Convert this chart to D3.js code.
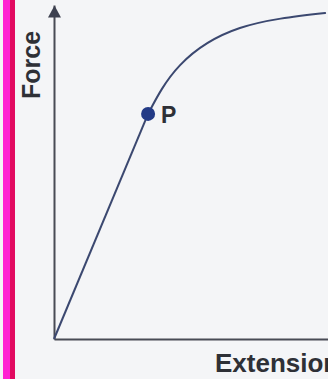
<!DOCTYPE html>
<html>
<head>
<meta charset="utf-8">
<script src="https://cdn.jsdelivr.net/npm/d3@7/dist/d3.min.js"></script>
<style>
  html, body { margin: 0; padding: 0; background: #f4f5f7; }
  svg { display: block; }
  .lbl { font-family: "Liberation Sans", Arial, sans-serif; font-weight: bold; fill: #2e3036; }
</style>
</head>
<body>
<div id="chart"></div>
<script>
// force-extension curve (arbitrary units 0..10)
const extension = [0, 3.29, 4.41, 6.50, 9.48];
const force     = [0, 6.74, 8.20, 9.31, 9.76];
const limitIndex = 1;          // point P, end of the straight part
const pointLabel = "P";
const xLabel = "Extension";
const yLabel = "Force";

const W = 328, H = 379;
const svg = d3.select("#chart").append("svg")
  .attr("width", W)
  .attr("height", H);

// page edge strip
svg.append("rect").attr("x", 3).attr("y", 0).attr("width", 7).attr("height", H).attr("fill", "#ff22d2");
svg.append("rect").attr("x", 10).attr("y", 0).attr("width", 5).attr("height", H).attr("fill", "#e20a60");

const x = d3.scaleLinear().domain([0, 10]).range([54, 340]);
const y = d3.scaleLinear().domain([0, 10]).range([339, 5]);

svg.append("defs").append("marker")
  .attr("id", "arrow")
  .attr("markerUnits", "userSpaceOnUse")
  .attr("viewBox", "0 0 12 13")
  .attr("refX", 12).attr("refY", 6.5)
  .attr("markerWidth", 12).attr("markerHeight", 13)
  .attr("orient", "auto")
  .append("path")
  .attr("d", "M0,0L12,6.5L0,13Z")
  .attr("fill", "#3d4150");

const axisColor = "#484b55";

svg.append("g")
  .attr("transform", `translate(0,${y(0)})`)
  .call(d3.axisBottom(x).ticks(0).tickSizeOuter(0))
  .call(g => g.select(".domain").attr("stroke", axisColor).attr("stroke-width", 2));

svg.append("g")
  .attr("transform", `translate(${x(0)},0)`)
  .call(d3.axisLeft(y).ticks(0).tickSizeOuter(0))
  .call(g => g.select(".domain")
    .attr("stroke", axisColor).attr("stroke-width", 2)
    .attr("marker-end", "url(#arrow)"));

const pts = extension.map((e, i) => ({ e, f: force[i] }));

const lineColor = "#3b4870";

svg.append("path")
  .datum(pts.slice(0, limitIndex + 1))
  .attr("fill", "none")
  .attr("stroke", lineColor)
  .attr("stroke-width", 2)
  .attr("d", d3.line().x(d => x(d.e)).y(d => y(d.f)));

svg.append("path")
  .datum(pts.slice(limitIndex))
  .attr("fill", "none")
  .attr("stroke", lineColor)
  .attr("stroke-width", 2)
  .attr("stroke-linecap", "round")
  .attr("d", d3.line().x(d => x(d.e)).y(d => y(d.f)).curve(d3.curveNatural));

const p = pts[limitIndex];
svg.append("circle")
  .attr("cx", x(p.e))
  .attr("cy", y(p.f))
  .attr("r", 7)
  .attr("fill", "#233a86");

svg.append("text")
  .attr("class", "lbl")
  .attr("x", x(p.e) + 13)
  .attr("y", y(p.f) + 9)
  .attr("font-size", "23px")
  .text(pointLabel);

svg.append("text")
  .attr("class", "lbl")
  .attr("x", 215)
  .attr("y", 372)
  .attr("font-size", "26px")
  .text(xLabel);

svg.append("text")
  .attr("class", "lbl")
  .attr("transform", "translate(40,65) rotate(-90)")
  .attr("text-anchor", "middle")
  .attr("font-size", "25px")
  .text(yLabel);
</script>
</body>
</html>
